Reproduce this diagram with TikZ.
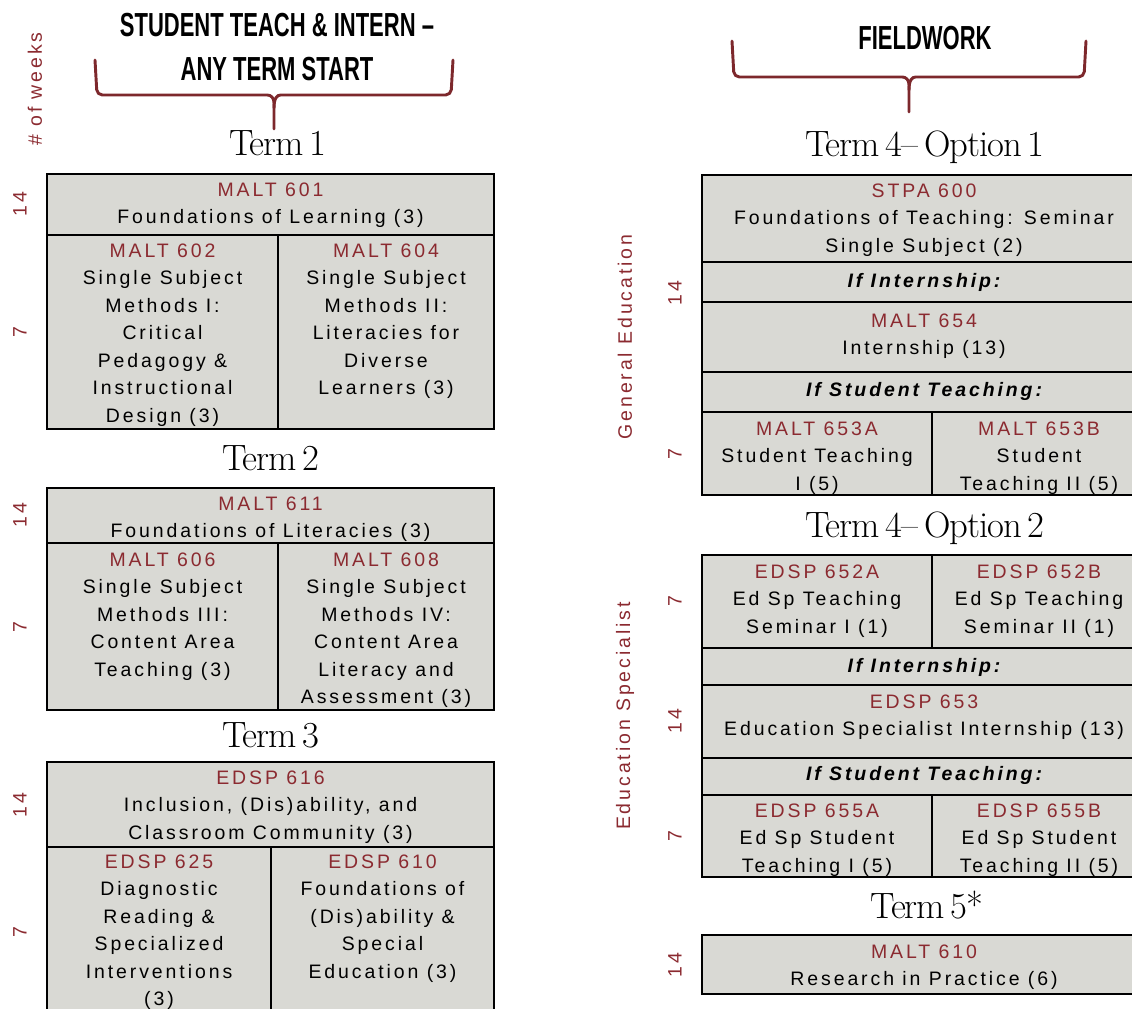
\documentclass[tikz,border=0pt]{standalone}
\usepackage{fontspec}
\usepackage{xcolor}
\setmainfont{Liberation Sans}[LetterSpace=15]
\newfontfamily\headfont{Liberation Sans}[FakeStretch=0.66]
\newfontfamily\termfont{Latin Modern Roman}[LetterSpace=-3, WordSpace=0.6]
\definecolor{codered}{RGB}{139,42,48}
\definecolor{bracered}{RGB}{125,40,44}
\definecolor{cellgray}{RGB}{217,217,212}
\newcommand{\crs}[1]{\strut\textcolor{codered}{#1}}
\newcommand{\casehead}[1]{\strut\bfseries\itshape #1}
\tikzset{
  cell/.style={draw=black, line width=1.5pt, fill=cellgray},
  rule/.style={draw=black, line width=1.5pt},
  txt/.style={anchor=north, inner sep=0pt, align=center, text=black,
    font=\fontsize{14.6}{20.6}\selectfont},
  wk/.style={rotate=90, inner sep=0pt, text=codered,
    font=\fontsize{14.6}{20.6}\selectfont},
  term/.style={anchor=base, inner sep=0pt, font=\termfont\fontsize{27.5}{30}\selectfont},
  head/.style={anchor=base, inner sep=0pt, font=\headfont\bfseries\fontsize{25}{33}\selectfont},
  brace/.style={draw=bracered, line width=2.2pt, line cap=round, line join=round, rounded corners=4pt},
}
\begin{document}
\begin{tikzpicture}[x=0.75pt, y=-0.75pt]
  \clip (0,0) rectangle (1132,1008);

  \node[head] (h1a) at (277,36) {STUDENT TEACH \& INTERN –};
  \node[head] (h1b) at (277,80) {ANY TERM START};
  \node[head] (h2) at (925,49) {FIELDWORK};

  \draw[brace] (95,60) -- (97,95) -- (262,95) .. controls (271,95) and (274,98) .. (274,108) -- (274,129);
  \draw[brace] (453,60) -- (451,95) -- (286,95) .. controls (277,95) and (274,98) .. (274,108);
  \draw[brace] (732,41) -- (734,77) -- (897,77) .. controls (906,77) and (909,80) .. (909,90) -- (909,112);
  \draw[brace] (1086,41) -- (1084,77) -- (921,77) .. controls (912,77) and (909,80) .. (909,90);

  \node[wk] (weeks) at (35,89) {\# of weeks};
  \node[wk] (gened) at (625,337) {General Education};
  \node[wk] (edsp) at (625,716) {Education Specialist};

  % term 1
  \node[term] (t1) at (278,155) {Term 1};
  \draw[cell] (47,174) rectangle (494,429);
  \draw[rule] (47,235) -- (494,235);
  \draw[rule] (278,235) -- (278,429);
  \node[wk] (t1a) at (20,204) {14};
  \node[wk] (t1b) at (20,332) {7};
  \node[txt] (malt601) at (270.5,177) {\crs{MALT 601}\\Foundations of Learning (3)};
  \node[txt] (malt602) at (162.5,238) {\crs{MALT 602}\\Single Subject\\Methods I:\\Critical\\Pedagogy \&\\Instructional\\Design (3)};
  \node[txt] (malt604) at (386,238) {\crs{MALT 604}\\Single Subject\\Methods II:\\Literacies for\\Diverse\\Learners (3)};

  % term 2
  \node[term] (t2) at (271,470) {Term 2};
  \draw[cell] (47,488) rectangle (494,710);
  \draw[rule] (47,543) -- (494,543);
  \draw[rule] (278,543) -- (278,710);
  \node[wk] (t2a) at (20,515) {14};
  \node[wk] (t2b) at (20,627) {7};
  \node[txt] (malt611) at (270.5,491) {\crs{MALT 611}\\Foundations of Literacies (3)};
  \node[txt] (malt606) at (162.5,547) {\crs{MALT 606}\\Single Subject\\Methods III:\\Content Area\\Teaching (3)};
  \node[txt] (malt608) at (386,547) {\crs{MALT 608}\\Single Subject\\Methods IV:\\Content Area\\Literacy and\\Assessment (3)};

  % term 3
  \node[term] (t3) at (271,747) {Term 3};
  \draw[cell] (47,762) rectangle (494,1030);
  \draw[rule] (47,847) -- (494,847);
  \draw[rule] (271,847) -- (271,1030);
  \node[wk] (t3a) at (20,805) {14};
  \node[wk] (t3b) at (20,932) {7};
  \node[txt] (edsp616) at (270.5,765) {\crs{EDSP 616}\\Inclusion, (Dis)ability, and\\Classroom Community (3)};
  \node[txt] (edsp625) at (159,849) {\crs{EDSP 625}\\Diagnostic\\Reading \&\\Specialized\\Interventions\\(3)};
  \node[txt] (edsp610) at (382.5,849) {\crs{EDSP 610}\\Foundations of\\(Dis)ability \&\\Special\\Education (3)};

  % term 4, option 1
  \node[term] (t4a) at (925,156) {Term 4– Option 1};
  \draw[cell] (702,175) rectangle (1146,495);
  \draw[rule] (702,262) -- (1146,262);
  \draw[rule] (702,302) -- (1146,302);
  \draw[rule] (702,372) -- (1146,372);
  \draw[rule] (702,412) -- (1146,412);
  \draw[rule] (932,412) -- (932,495);
  \node[wk] (o1a) at (675,293) {14};
  \node[wk] (o1b) at (675,454) {7};
  \node[txt] (stpa600) at (924,178) {\crs{STPA 600}\\Foundations of Teaching: Seminar\\Single Subject (2)};
  \node[txt] (o1int) at (924,268) {\casehead{If Internship:}};
  \node[txt] (malt654) at (924,308) {\crs{MALT 654}\\Internship (13)};
  \node[txt] (o1st) at (924,377) {\casehead{If Student Teaching:}};
  \node[txt] (malt653a) at (817,416) {\crs{MALT 653A}\\Student Teaching\\I (5)};
  \node[txt] (malt653b) at (1039,416) {\crs{MALT 653B}\\Student\\Teaching II (5)};

  % term 4, option 2
  \node[term] (t4b) at (925,537) {Term 4– Option 2};
  \draw[cell] (702,555) rectangle (1146,877);
  \draw[rule] (702,648) -- (1146,648);
  \draw[rule] (702,685) -- (1146,685);
  \draw[rule] (702,758) -- (1146,758);
  \draw[rule] (702,795) -- (1146,795);
  \draw[rule] (932,555) -- (932,648);
  \draw[rule] (932,795) -- (932,877);
  \node[wk] (o2a) at (675,601) {7};
  \node[wk] (o2b) at (675,721) {14};
  \node[wk] (o2c) at (675,836) {7};
  \node[txt] (edsp652a) at (817,559) {\crs{EDSP 652A}\\Ed Sp Teaching\\Seminar I (1)};
  \node[txt] (edsp652b) at (1039,559) {\crs{EDSP 652B}\\Ed Sp Teaching\\Seminar II (1)};
  \node[txt] (o2int) at (924,653) {\casehead{If Internship:}};
  \node[txt] (edsp653) at (924,689) {\crs{EDSP 653}\\Education Specialist Internship (13)};
  \node[txt] (o2st) at (924,761) {\casehead{If Student Teaching:}};
  \node[txt] (edsp655a) at (817,798) {\crs{EDSP 655A}\\Ed Sp Student\\Teaching I (5)};
  \node[txt] (edsp655b) at (1039,798) {\crs{EDSP 655B}\\Ed Sp Student\\Teaching II (5)};

  % term 5
  \node[term] (t5) at (927,918) {Term 5*};
  \draw[cell] (702,935) rectangle (1146,994);
  \node[wk] (t5a) at (675,965) {14};
  \node[txt] (malt610) at (924,939) {\crs{MALT 610}\\Research in Practice (6)};
\end{tikzpicture}
\end{document}
